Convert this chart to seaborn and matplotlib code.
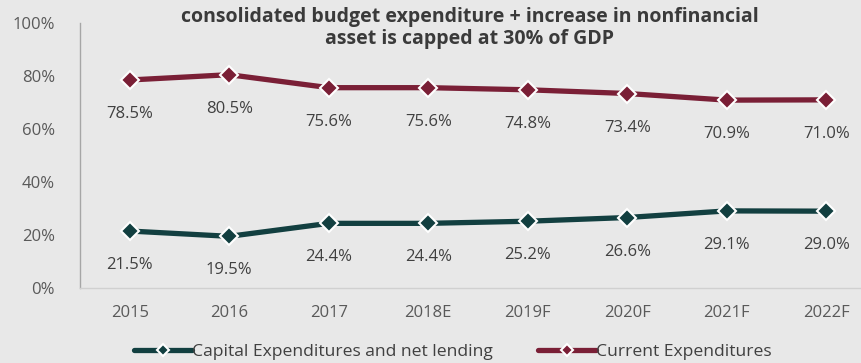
import pandas as pd
import matplotlib.pyplot as plt
import seaborn as sns

years = ["2015", "2016", "2017", "2018E", "2019F", "2020F", "2021F", "2022F"]
capital = [21.5, 19.5, 24.4, 24.4, 25.2, 26.6, 29.1, 29.0]
current = [78.5, 80.5, 75.6, 75.6, 74.8, 73.4, 70.9, 71.0]
series_names = ["Capital Expenditures and net lending", "Current Expenditures"]
colors = ["#123f40", "#7a1f36"]

df = pd.concat([
    pd.DataFrame({"year": years, "value": capital, "series": series_names[0]}),
    pd.DataFrame({"year": years, "value": current, "series": series_names[1]}),
])

sns.set_theme(style="white")
plt.rcParams['font.family'] = ['Open Sans', 'DejaVu Sans']

fig = plt.figure(figsize=(8.62, 3.63), dpi=100)
fig.patch.set_facecolor('#e8e8e8')
ax = fig.add_axes([0.0928, 0.2066, 0.9234, 0.73])
ax.set_facecolor('#e8e8e8')

sns.lineplot(data=df, x="year", y="value", hue="series", palette=colors,
             marker="D", markersize=9, markeredgecolor="white", markeredgewidth=1.5,
             linewidth=3.8, ax=ax, sort=False)

# data labels under each point
for vals in (capital, current):
    for i, v in enumerate(vals):
        ax.annotate(f"{v:.1f}%", (i, v), xytext=(0, -24.5), textcoords="offset points",
                    ha="center", va="center", fontsize=12, color="#404040")

ax.set_xlim(-0.5, 7.5)
ax.set_ylim(0, 100)
ax.set_yticks(range(0, 101, 20))
ax.set_yticklabels([f"{t}%" for t in range(0, 101, 20)])
ax.tick_params(axis='both', labelsize=12, labelcolor="#595959", length=0)
ax.tick_params(axis='x', pad=12)
ax.tick_params(axis='y', pad=18)
ax.set_xlabel("")
ax.set_ylabel("")
for s in ["top", "right"]:
    ax.spines[s].set_visible(False)
ax.spines["left"].set_color("#a6a6a6")
ax.spines["bottom"].set_color("#d0d0d0")
ax.spines["left"].set_linewidth(1)
ax.spines["bottom"].set_linewidth(1)

fig.text(0.545, 0.922, "consolidated budget expenditure + increase in nonfinancial\nasset is capped at 30% of GDP",
         ha="center", va="center", fontsize=14, fontweight="bold", color="#3a3a3a", linespacing=1.15)

handles, labels = ax.get_legend_handles_labels()
leg = fig.legend(handles, labels, loc="center", bbox_to_anchor=(453 / 862, 1 - 352 / 363),
                 ncol=2, frameon=False, fontsize=12.6, handlelength=3.3, handletextpad=0.0,
                 columnspacing=2.6, labelcolor="#404040")
for line in leg.get_lines():
    line.set_markersize(6)
if ax.get_legend():
    ax.get_legend().remove()

fig.savefig("out.png", dpi=100, facecolor=fig.get_facecolor())
